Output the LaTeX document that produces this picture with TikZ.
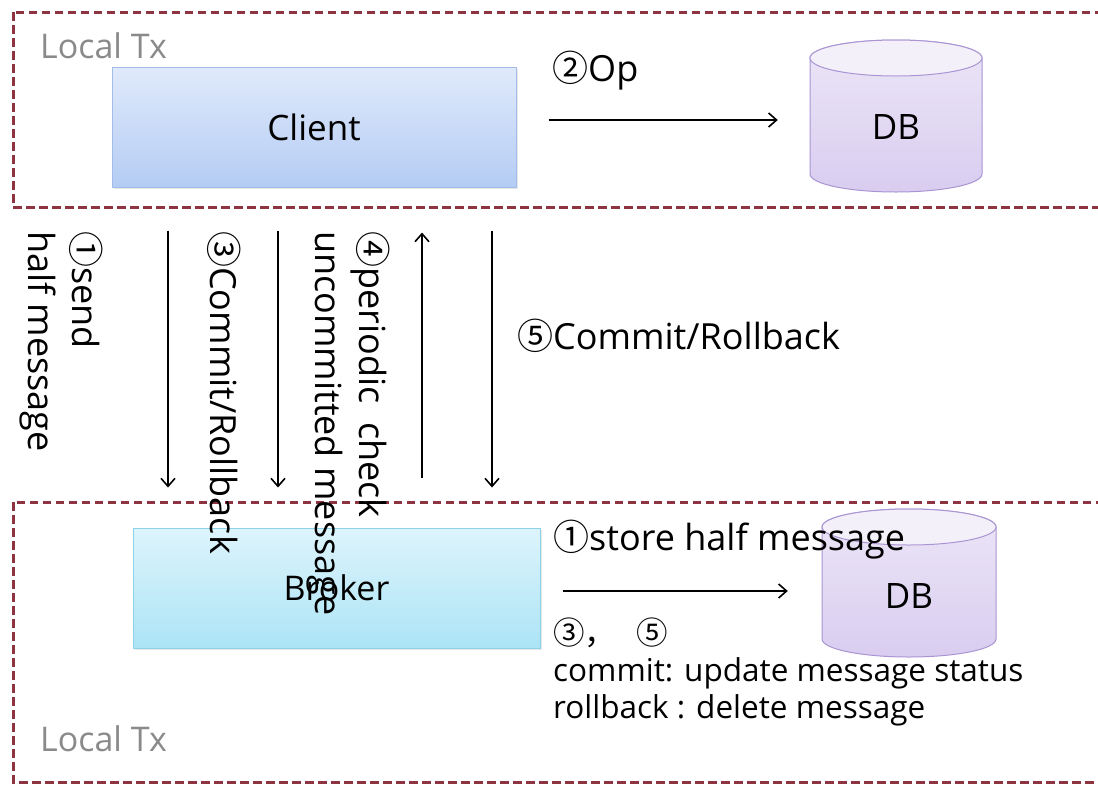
\documentclass[tikz,border=0pt]{standalone}
\usepackage{fontspec}
\setmainfont{Open Sans}
\newfontfamily\cjkfont{Noto Sans CJK SC}
\newcommand\cnum[1]{{\cjkfont #1}}
\usetikzlibrary{arrows.meta,calc,shadows}
\definecolor{dashred}{HTML}{8E3440}
\definecolor{clienttop}{HTML}{E0EAFB}
\definecolor{clientbot}{HTML}{B4CCF4}
\definecolor{clientline}{HTML}{A2BDEA}
\definecolor{brokertop}{HTML}{DDF4FC}
\definecolor{brokerbot}{HTML}{ACE4F6}
\definecolor{brokerline}{HTML}{8CD3EA}
\definecolor{dbtop}{HTML}{F4F0FA}
\definecolor{dbbodytop}{HTML}{ECE6F7}
\definecolor{dbbodybot}{HTML}{D9CDF0}
\definecolor{dbline}{HTML}{A995D3}
\definecolor{txgray}{HTML}{8A8A8A}
\begin{document}
\begin{tikzpicture}[x=1pt,y=-1pt,
  region/.style={draw=dashred,line width=3pt,dash pattern=on 8.5pt off 4.5pt},
  clientbox/.style={draw=clientline,line width=1pt,top color=clienttop,bottom color=clientbot,
    minimum width=404pt,minimum height=120pt,inner sep=0pt,
    drop shadow={opacity=0.18,shadow xshift=2pt,shadow yshift=-2pt},
    font=\fontsize{35}{42}\selectfont},
  brokerbox/.style={draw=brokerline,line width=1pt,top color=brokertop,bottom color=brokerbot,
    minimum width=407pt,minimum height=120pt,inner sep=0pt,
    drop shadow={opacity=0.18,shadow xshift=2pt,shadow yshift=-2pt},
    font=\fontsize{34}{42}\selectfont},
  dbbody/.style={draw=dbline,line width=1pt,top color=dbbodytop,bottom color=dbbodybot},
  dbcap/.style={draw=dbline,line width=1pt,fill=dbtop},
  dbtext/.style={inner sep=0pt,minimum height=40pt,font=\fontsize{35}{42}\selectfont},
  txlabel/.style={anchor=base west,inner sep=0pt,text=txgray,font=\fontsize{34}{40}\selectfont},
  lbl/.style={anchor=base west,inner sep=0pt,font=\fontsize{36}{44}\selectfont},
  small/.style={anchor=base west,inner sep=0pt,align=left,font=\fontsize{31.5}{37}\selectfont},
  vlbl/.style={rotate=-90,anchor=north west,inner sep=0pt,align=left,font=\fontsize{36}{44}\selectfont},
  arr/.style={line width=1.6pt,-{Straight Barb[length=8pt,width=14pt,line width=1.6pt]}}
]
\clip (0,0) rectangle (1098,785);
\fill[white] (0,0) rectangle (1098,785);

% regions
\draw[region] (13,12) rectangle (1130,207);
\draw[region] (13,502) rectangle (1130,782);
\node[txlabel] (tx1) at (40,58) {Local Tx};
\node[txlabel] (tx2) at (40,751) {Local Tx};

% client and broker
\node[clientbox] (client) at (314,127) {Client};
\node[brokerbox] (broker) at (336.5,588) {Broker};

% top DB cylinder
\path[dbbody] (810,58) -- (810,174)
  .. controls (810,184) and (848.5,192) .. (896,192)
  .. controls (943.5,192) and (982,184) .. (982,174)
  -- (982,58)
  .. controls (982,48) and (943.5,40) .. (896,40)
  .. controls (848.5,40) and (810,48) .. (810,58) -- cycle;
\draw[dbcap] (896,58) ellipse [x radius=86, y radius=18];
\node[dbtext,minimum width=172pt] (db1) at (896,127) {DB};

% bottom DB cylinder
\path[dbbody] (822,527) -- (822,639)
  .. controls (822,649) and (861,657) .. (909,657)
  .. controls (957,657) and (996,649) .. (996,639)
  -- (996,527)
  .. controls (996,517) and (957,509) .. (909,509)
  .. controls (861,509) and (822,517) .. (822,527) -- cycle;
\draw[dbcap] (909,527) ellipse [x radius=87, y radius=18];
\node[dbtext,minimum width=174pt] (db2) at (909,596) {DB};

% horizontal arrows
\draw[arr] ($(client.east)+(32,-7)$) -- ($(db1.west)+(-32,-7)$);
\node[lbl] (op) at (552,81) {\cnum{②}Op};
\draw[arr] ($(broker.east)+(22,3)$) -- ($(db2.west)+(-34,-5)$);
\node[lbl] (store) at (553,550) {\cnum{①}store half message};
\node[small] (c35) at (553,644) {\cnum{③，}\hspace{20pt}\cnum{⑤}};
\node[small] (cm) at (553,681) {commit: update message status};
\node[small] (rb) at (553,718) {rollback : delete message};

% vertical arrows
\coordinate (v1) at (168,0);
\coordinate (v2) at (278,0);
\coordinate (v3) at (422,0);
\coordinate (v4) at (492,0);
\draw[arr,shorten <=43pt,shorten >=40pt] (client.south -| v1) -- (broker.north -| v1);
\draw[arr,shorten <=43pt,shorten >=40pt] (client.south -| v2) -- (broker.north -| v2);
\draw[arr,shorten <=50pt,shorten >=45pt] (broker.north -| v3) -- (client.south -| v3);
\draw[arr,shorten <=43pt,shorten >=40pt] (client.south -| v4) -- (broker.north -| v4);

\node[vlbl] (l1) at (103,231) {\cnum{①}send\\half message};
\node[vlbl] (l3) at (241,231) {\cnum{③}Commit/Rollback};
\node[vlbl] (l4) at (390,231) {\cnum{④}periodic\ \ check\\uncommitted message};
\node[lbl] (l5) at (517,349) {\cnum{⑤}Commit/Rollback};
\end{tikzpicture}
\end{document}
